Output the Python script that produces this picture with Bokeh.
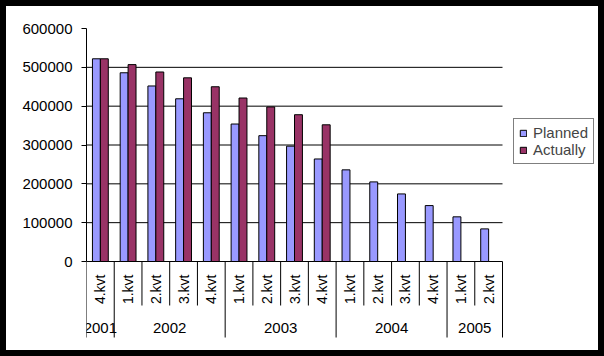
import math
from bokeh.plotting import figure
from bokeh.models import (Range1d, FixedTicker, Legend, LegendItem, ColumnDataSource,
                          Label)
from bokeh.core.properties import value
from bokeh.embed import file_html
from bokeh.resources import INLINE

# ---- data ----
years = ["2001", "2002", "2003", "2004", "2005"]
quarters = ["4.kvt", "1.kvt", "2.kvt", "3.kvt", "4.kvt",
            "1.kvt", "2.kvt", "3.kvt", "4.kvt",
            "1.kvt", "2.kvt", "3.kvt", "4.kvt",
            "1.kvt", "2.kvt"]
quarters_per_year = [1, 4, 4, 4, 2]
planned = [522000, 486000, 452000, 419000, 383000, 354000, 324000, 297000,
           264000, 236000, 205000, 174000, 144000, 115000, 84000]
actually = [522000, 507000, 488000, 473000, 450000, 421000, 398000, 378000,
            352000]
y_ticks = [0, 100000, 200000, 300000, 400000, 500000, 600000]

# ---- layout constants ----
BORDER = 6
W, H = 592, 344          # inner size (6px black border around)
FL, FT = 80, 22          # frame left/top inside figure
FB = 338                 # frame bottom
PLOT_PX = 416.0          # width of category area in px
Y_PX = 233.0             # px for 0..600000
N = len(quarters)
PX_PER_CAT = PLOT_PX / N
U = y_ticks[-1] / Y_PX   # data units per px (y)
x_end = (W - FL) / PX_PER_CAT
y_start = -(FB - FT - Y_PX) * U

FONT = "Liberation Sans"
PLANNED_C = "#9999FF"
ACTUAL_C = "#993366"

p = figure(width=W, height=H, x_range=Range1d(0, x_end),
           y_range=Range1d(y_start, y_ticks[-1]),
           output_backend="svg", toolbar_location=None,
           min_border_left=FL, min_border_top=FT,
           min_border_bottom=H - FB + 2 * BORDER, min_border_right=2 * BORDER,
           x_axis_location=None)
p.styles = {"border": f"{BORDER}px solid black", "box-sizing": "content-box"}
p.outline_line_color = None
p.background_fill_color = "white"
p.border_fill_color = "white"
p.xgrid.visible = False
p.ygrid.visible = False

yax = p.yaxis[0]
yax.ticker = FixedTicker(ticks=y_ticks)
yax.bounds = (0, y_ticks[-1])
yax.axis_line_color = "black"
yax.major_tick_out = 5
yax.major_tick_in = 0
yax.minor_tick_out = 0
yax.minor_tick_in = 0
yax.major_tick_line_color = "black"
yax.major_label_standoff = 9
yax.major_label_text_font = FONT
yax.major_label_text_font_size = "15px"
yax.major_label_text_color = "black"
yax.formatter.use_scientific = False

# gridlines (0..500000) across category area
grid_y = y_ticks[:-1]
p.segment(x0=[0] * len(grid_y), y0=grid_y, x1=[N] * len(grid_y), y1=grid_y,
          line_color="black", line_width=1)

# bars
bw = 1 / 3.5
xs = [i + 0.5 for i in range(N)]
src_p = ColumnDataSource(dict(x=[x - bw / 2 for x in xs], top=planned))
src_a = ColumnDataSource(dict(x=[xs[i] + bw / 2 for i in range(len(actually))], top=actually))
rp = p.vbar(x="x", top="top", bottom=0, width=bw, source=src_p,
            fill_color=PLANNED_C, line_color="black", line_width=1)
ra = p.vbar(x="x", top="top", bottom=0, width=bw, source=src_a,
            fill_color=ACTUAL_C, line_color="black", line_width=1)

# category dividers
year_bounds = [0]
for q in quarters_per_year:
    year_bounds.append(year_bounds[-1] + q)
short_len = 44 * U
long_len = 76 * U
qx = [i for i in range(N + 1) if i not in year_bounds]
p.segment(x0=qx, y0=[0] * len(qx), x1=qx, y1=[-short_len] * len(qx),
          line_color="black", line_width=1)
p.segment(x0=year_bounds, y0=[0] * len(year_bounds), x1=year_bounds,
          y1=[-long_len] * len(year_bounds), line_color="black", line_width=1)

# quarter labels (rotated)
p.text(x=xs, y=[-13 * U] * N, text=quarters, angle=math.pi / 2,
       text_align="right", text_baseline="middle",
       text_font=value(FONT), text_font_size="14px", text_color="black")

# year labels
for i, yr in enumerate(years):
    xc = (year_bounds[i] + year_bounds[i + 1]) / 2
    p.add_layout(Label(x=xc, y=-66 * U, text=yr,
                       text_align="center", text_baseline="middle",
                       text_font=FONT, text_font_size="15px",
                       text_color="black"))

legend = Legend(items=[LegendItem(label="Planned", renderers=[rp]),
                       LegendItem(label="Actually", renderers=[ra])],
                location=(427, 180), margin=0, padding=5, spacing=0,
                glyph_width=8, glyph_height=8, label_standoff=6,
                label_height=17, label_text_font=FONT,
                label_text_font_size="15px", label_text_baseline="middle",
                border_line_color="black", border_line_width=1,
                background_fill_color="white", background_fill_alpha=1)
p.add_layout(legend)

open("out.html", "w").write(file_html(p, INLINE))
